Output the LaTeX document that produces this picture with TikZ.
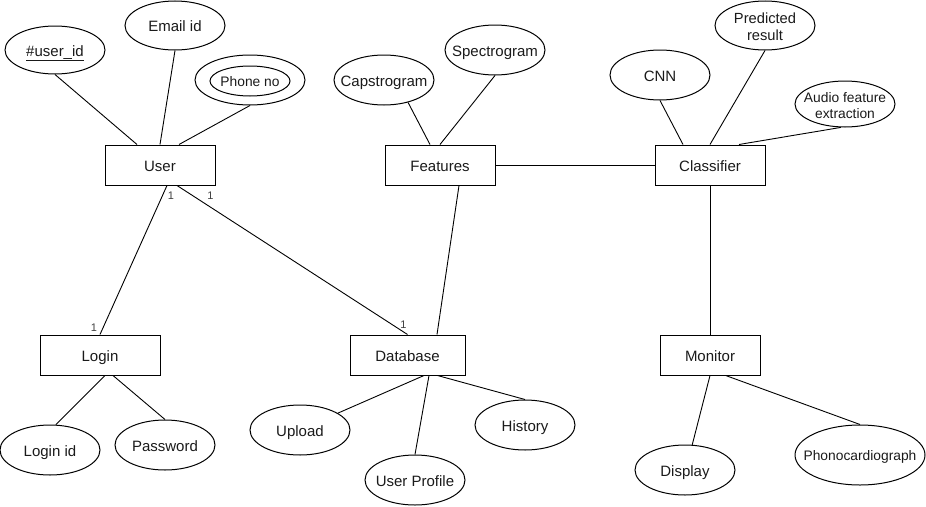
\documentclass[tikz,border=0pt]{standalone}
\usepackage{fontspec}
\setmainfont{Liberation Sans}
\usetikzlibrary{shapes.geometric,calc}
\definecolor{txt}{HTML}{1A1A1A}
\definecolor{card}{HTML}{404040}
\tikzset{
  ent/.style={draw, line width=1pt, rectangle, minimum height=40pt, inner sep=0pt,
    text height=15pt, text depth=3pt,
    font=\fontsize{15}{18}\selectfont, text=txt},
  % attribute ellipse of fixed size; the caption is set as a centred label
  attr/.style 2 args={draw, line width=1pt, ellipse, inner sep=0pt,
    minimum width=#1pt, minimum height=#2pt},
  lbl/.style={inner sep=0pt, align=center, text height=15pt, text depth=3pt,
    font=\fontsize{15}{18}\selectfont, text=txt},
  small/.style={lbl, text height=14pt, font=\fontsize{13.8}{16.6}\selectfont},
  twoline/.style={inner sep=0pt, align=center, yshift=-1.5pt, text=txt},
  link/.style={line width=0.9pt},
  card/.style={font=\fontsize{11}{13}\selectfont, text=card, inner sep=0pt}
}
\begin{document}
\begin{tikzpicture}[x=1pt,y=-1pt]
\useasboundingbox (0,0) rectangle (926,506);

% entities
\node[ent, minimum width=110pt] (user)    at (160,165)   {User};
\node[ent, minimum width=110pt] (feat)    at (440,165)   {Features};
\node[ent, minimum width=110pt] (class)   at (710,165)   {Classifier};
\node[ent, minimum width=120pt] (login)   at (100,355)   {Login};
\node[ent, minimum width=115pt] (db)      at (407.5,355) {Database};
\node[ent, minimum width=100pt] (monitor) at (710,355)   {Monitor};

% attributes of User
\node[attr={100}{48}, label={[lbl]center:\underline{\#user\_id}}] (uid) at (55,50) {};
\node[attr={100}{49}, label={[lbl]center:Email id}] (email) at (175,25.5) {};
\node[attr={110}{50}] (phone) at (250,80) {};
\node[attr={80}{30}, label={[small]center:Phone no}] (phonein) at (250,81) {};

% attributes of Features
\node[attr={100}{50}, label={[lbl]center:Capstrogram}] (caps) at (384,80) {};
\node[attr={100}{50}, label={[lbl]center:Spectrogram}] (spec) at (495,50) {};

% attributes of Classifier
\node[attr={100}{50}, label={[lbl]center:CNN}] (cnn) at (660,75) {};
\node[attr={100}{49}, label={[twoline, font=\fontsize{14.7}{17.3}\selectfont]center:Predicted\\result}] (pred) at (765,25.5) {};
\node[attr={100}{46}, label={[twoline, font=\fontsize{13.8}{16.6}\selectfont]center:Audio feature\\extraction}] (audio) at (845,104) {};

% attributes of Login
\node[attr={100}{50}, label={[lbl]center:Login id}] (lid)  at (50,450)  {};
\node[attr={100}{50}, label={[lbl]center:Password}] (pass) at (165,445) {};

% attributes of Database
\node[attr={100}{50}, label={[lbl]center:Upload}] (upload) at (300,430) {};
\node[attr={100}{50}, label={[lbl]center:User Profile}] (profile) at (415,480) {};
\node[attr={100}{50}, label={[lbl]center:History}] (hist) at (525,425) {};

% attributes of Monitor
\node[attr={100}{50}, label={[lbl]center:Display}] (disp) at (685,470) {};
\node[attr={130}{60}, label={[small]center:Phonocardiograph}] (phono) at (860,455) {};

% attribute links
\draw[link] (uid.south) -- ($(user.north)+(-23,0)$);
\draw[link] (email.south) -- (user.north);
\draw[link] (phone.south) -- ($(user.north)+(19,0)$);
\draw[link] (caps.-43) -- ($(feat.north)+(-10,0)$);
\draw[link] (spec.south) -- (feat.north);
\draw[link] (cnn.south) -- ($(class.north)+(-27,0)$);
\draw[link] (pred.south) -- (class.north);
\draw[link] (audio.-100) -- ($(class.north)+(29,0)$);
\draw[link] ($(login.south)+(5,0)$) -- (lid.77);
\draw[link] ($(login.south)+(13,0)$) -- (pass.north);
\draw[link] ($(db.south)+(16.5,0)$) -- (upload.24);
\draw[link] ($(db.south)+(21.5,0)$) -- (profile.north);
\draw[link] ($(db.south)+(30,0)$) -- (hist.north);
\draw[link] (monitor.south) -- (disp.74);
\draw[link] ($(monitor.south)+(15.7,0)$) -- (phono.north);

% relationships
\draw[link] ($(user.south)+(7,0)$) -- (login.north);
\draw[link] ($(user.south)+(17,0)$) -- (db.north);
\draw[link] ($(feat.south)+(19,0)$) -- ($(db.north)+(29.5,0)$);
\draw[link] (feat.east) -- (class.west);
\draw[link] (class.south) -- (monitor.north);

% cardinalities
\node[card] (c1) at (171,196)   {1};
\node[card] (c2) at (210.5,196) {1};
\node[card] (c3) at (94,328)    {1};
\node[card] (c4) at (403.5,325) {1};
\end{tikzpicture}
\end{document}
